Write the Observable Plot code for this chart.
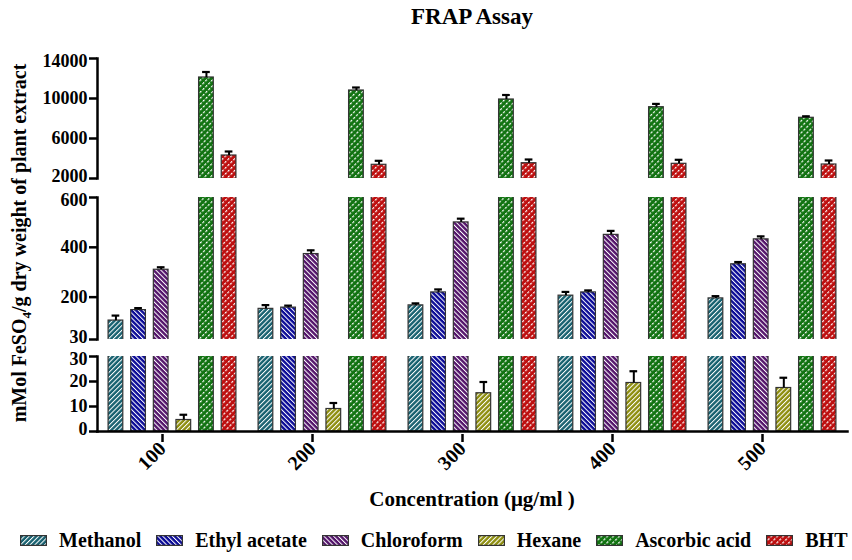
<!DOCTYPE html>
<html><head><meta charset="utf-8">
<script src="https://cdn.jsdelivr.net/npm/d3@7"></script>
<script src="https://cdn.jsdelivr.net/npm/@observablehq/plot@0.6"></script>
<style>
body{margin:0;background:#fff;}
#root{position:relative;width:852px;height:560px;overflow:hidden;font-family:'Liberation Serif','Times New Roman',serif;font-weight:bold;color:#000;}
.abs{position:absolute;}
#title{left:97px;width:750px;top:5px;font-size:23px;line-height:24px;text-align:center;}
#xtitle{left:97px;width:750px;top:488px;font-size:21px;line-height:22px;text-align:center;}
#ytitle{left:-181px;top:232px;width:400px;height:22px;font-size:20px;line-height:22px;text-align:center;transform:rotate(-90deg);white-space:nowrap;}
#ytitle sub{font-size:13px;line-height:0;}
#legend{left:20px;top:529px;height:22px;display:flex;align-items:center;font-size:20px;line-height:22px;white-space:nowrap;}
#legend .item{display:flex;align-items:center;margin-right:15px;}
#legend svg{margin-right:12px;}
.seg{position:absolute;left:0;}
</style></head>
<body>
<svg width="0" height="0" style="position:absolute">
<defs>
<pattern id="pat0" patternUnits="userSpaceOnUse" width="3.4" height="3.4" patternTransform="rotate(45)"><rect width="3.4" height="3.4" fill="#16606f"/><rect width="1" height="3.4" fill="#fff"/></pattern>
<pattern id="pat1" patternUnits="userSpaceOnUse" width="3.4" height="3.4" patternTransform="rotate(-45)"><rect width="3.4" height="3.4" fill="#0a0a96"/><rect width="1" height="3.4" fill="#fff"/></pattern>
<pattern id="pat2" patternUnits="userSpaceOnUse" width="3.4" height="3.4" patternTransform="rotate(-45)"><rect width="3.4" height="3.4" fill="#53146a"/><rect width="1" height="3.4" fill="#fff"/></pattern>
<pattern id="pat3" patternUnits="userSpaceOnUse" width="3.4" height="3.4" patternTransform="rotate(45)"><rect width="3.4" height="3.4" fill="#8e8e0e"/><rect width="1" height="3.4" fill="#fff"/></pattern>
<pattern id="pat4" patternUnits="userSpaceOnUse" width="4.2" height="4" patternTransform="rotate(45)"><rect width="4.2" height="4" fill="#117311"/><rect width="1.2" height="2.4" fill="#fff"/></pattern>
<pattern id="pat5" patternUnits="userSpaceOnUse" width="4.2" height="4" patternTransform="rotate(45)"><rect width="4.2" height="4" fill="#bd0f0f"/><rect width="1.2" height="2.4" fill="#fff"/></pattern>
</defs>
</svg>
<div id="root">
  <div id="title" class="abs">FRAP Assay</div>
  <div id="ytitle" class="abs">mMol FeSO<sub>4</sub>/g dry weight of plant extract</div>
  <div id="xtitle" class="abs">Concentration (μg/ml )</div>
  <div id="segTop" class="seg" style="top:48px"></div>
  <div id="segMid" class="seg" style="top:187px"></div>
  <div id="segBot" class="seg" style="top:346px"></div>
  <div id="legend" class="abs"></div>
</div>
<script>
const concentrations = [100, 200, 300, 400, 500];
const seriesNames = ["Methanol", "Ethyl acetate", "Chloroform", "Hexane", "Ascorbic acid", "BHT"];
const methanol = [106, 153, 167, 206, 195];
const methanolErr = [20, 15, 8, 15, 9];
const ethylAcetate = [148, 158, 219, 219, 332];
const ethylAcetateErr = [8, 8, 12, 8, 9];
const chloroform = [310, 373, 500, 450, 432];
const chloroformErr = [10, 15, 15, 16, 12];
const hexane = [4.6, 9.0, 15.3, 19.4, 17.4];
const hexaneErr = [2.1, 2.4, 4.5, 4.7, 4.1];
const ascorbicAcid = [12100, 10800, 9900, 9130, 8070];
const ascorbicAcidErr = [550, 300, 450, 330, 150];
const bht = [4300, 3370, 3530, 3470, 3400];
const bhtErr = [400, 400, 370, 400, 400];
const ticksTop = [2000, 6000, 10000, 14000];
const ticksMid = [30, 200, 400, 600];
const ticksBot = [0, 10, 20, 30];

const seriesValues = [methanol, ethylAcetate, chloroform, hexane, ascorbicAcid, bht];
const seriesErrors = [methanolErr, ethylAcetateErr, chloroformErr, hexaneErr, ascorbicAcidErr, bhtErr];
const patterns = seriesNames.map((_, j) => `url(#pat${j})`);

const rows = [];
concentrations.forEach((c, i) => seriesNames.forEach((s, j) =>
  rows.push({conc: c, series: s, value: seriesValues[j][i], err: seriesErrors[j][i]})));

function segment({domain, ticks, height, marginBottom, showX}) {
  const [lo, hi] = domain;
  const inner = ticks.filter(t => t !== lo && t !== hi);
  const fmt = d3.format("d");
  return Plot.plot({
    width: 852, height, marginLeft: 97, marginRight: 5, marginTop: 10, marginBottom,
    style: {fontFamily: "'Liberation Serif','Times New Roman',serif", fontWeight: "bold", fontSize: "18px", color: "#000", background: "transparent", overflow: "visible"},
    fx: {domain: concentrations, padding: 0, round: false, label: null, axis: null},
    x: {domain: seriesNames, paddingInner: 0.35, paddingOuter: 0.49, round: false, axis: null},
    y: {domain, axis: null},
    color: {type: "ordinal", domain: seriesNames, range: patterns},
    marks: [
      Plot.barY(rows, {fx: "conc", x: "series", y: "value", fill: "series", stroke: "#333", strokeWidth: 1.2, clip: true}),
      Plot.ruleX(rows, {fx: "conc", x: "series", y1: "value", y2: d => d.value + d.err, stroke: "#000", strokeWidth: 2, clip: true}),
      Plot.tickY(rows, {fx: "conc", x: "series", y: d => d.value + d.err, stroke: "#000", strokeWidth: 2.2, insetLeft: 3.5, insetRight: 3.5, clip: true}),
      Plot.axisY({ticks: inner, tickFormat: fmt, tickSize: 8, tickPadding: 2, strokeWidth: 2.5, label: null}),
      Plot.axisY({ticks: [lo, hi], tickFormat: () => "", tickSize: 8, strokeWidth: 2.5, label: null}),
      Plot.axisY({ticks: [lo], tickFormat: fmt, tickSize: 0, tickPadding: 10, label: null, dy: -2.5}),
      Plot.axisY({ticks: [hi], tickFormat: fmt, tickSize: 0, tickPadding: 10, label: null, dy: 2.5}),
      Plot.frame({anchor: "left", facet: "super", strokeWidth: 2.5}),
      showX ? Plot.frame({anchor: "bottom", facet: "super", strokeWidth: 2.5}) : null,
      showX ? Plot.axisFx({anchor: "bottom", tickRotate: -45, tickSize: 8, tickPadding: 3, strokeWidth: 2.5, label: null, fontSize: 20, dx: -10, dy: 3}) : null
    ]
  });
}

document.getElementById("segTop").append(segment({domain: [2000, 14000], ticks: ticksTop, height: 140, marginBottom: 10}));
document.getElementById("segMid").append(segment({domain: [30, 600], ticks: ticksMid, height: 162, marginBottom: 10}));
document.getElementById("segBot").append(segment({domain: [0, 30], ticks: ticksBot, height: 135, marginBottom: 50, showX: true}));

const legend = document.getElementById("legend");
seriesNames.forEach((s, j) => {
  const item = document.createElement("div");
  item.className = "item";
  item.innerHTML = `<svg width="27" height="11"><rect x="0.6" y="0.6" width="25.8" height="9.8" fill="${patterns[j]}" stroke="#333" stroke-width="1.2"/></svg><span>${s}</span>`;
  legend.append(item);
});
</script>
</body></html>
